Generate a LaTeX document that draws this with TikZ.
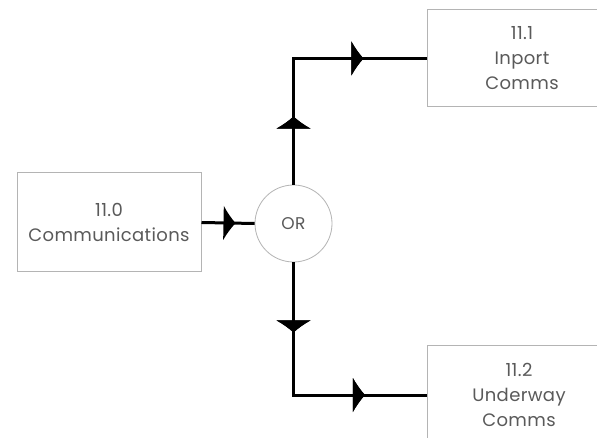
\documentclass[tikz,border=0pt]{standalone}
\usepackage{fontspec}
\setmainfont{Poppins}[LetterSpace=2]
\usetikzlibrary{decorations.markings}
\definecolor{boxgray}{HTML}{B4B4B4}
\definecolor{txtgray}{HTML}{5A5A5A}
\tikzset{
  procbox/.style={draw=boxgray, line width=1pt, fill=white, align=center,
    text=txtgray, font=\fontsize{18}{25}\selectfont, inner sep=0pt},
  orgate/.style={circle, draw=boxgray, line width=0.8pt, fill=white,
    text=txtgray, font=\fontsize{17}{20}\selectfont, minimum size=77pt, inner sep=0pt},
  flow/.style={line width=3pt, black},
  midarrow/.style={postaction={decorate}, decoration={markings,
    mark=at position #1 with {\fill[black] (0,0) .. controls (-4,4.5) and (-8.5,10.5) .. (-12,17)
      -- (-12,-17) .. controls (-8.5,-10.5) and (-4,-4.5) .. (0,0) -- cycle;}}}
}
\begin{document}
\begin{tikzpicture}[x=1pt, y=-1pt]
\useasboundingbox (0,0) rectangle (597,438);
\clip (0,0) rectangle (597,438);
\fill[white] (0,0) rectangle (597,438);
\node[procbox, minimum width=184pt, minimum height=99pt] (b0) at (109,222.5) {11.0\\Communications};
\node[orgate] (c) at (293.5,223.5) {OR};
\node[procbox, minimum width=190pt, minimum height=97pt] (b1) at (522,58.5) {11.1\\Inport\\Comms};
\node[procbox, minimum width=184pt, minimum height=100pt] (b2) at (519,395) {11.2\\Underway\\Comms};
\draw[flow, midarrow=34pt] (b0.east) -- (c.west);
\draw[flow, midarrow=68pt, midarrow=196pt] (c.north) |- (b1.west);
\draw[flow, midarrow=70pt, midarrow=204pt] (c.south) |- (b2.west);
\end{tikzpicture}
\end{document}
